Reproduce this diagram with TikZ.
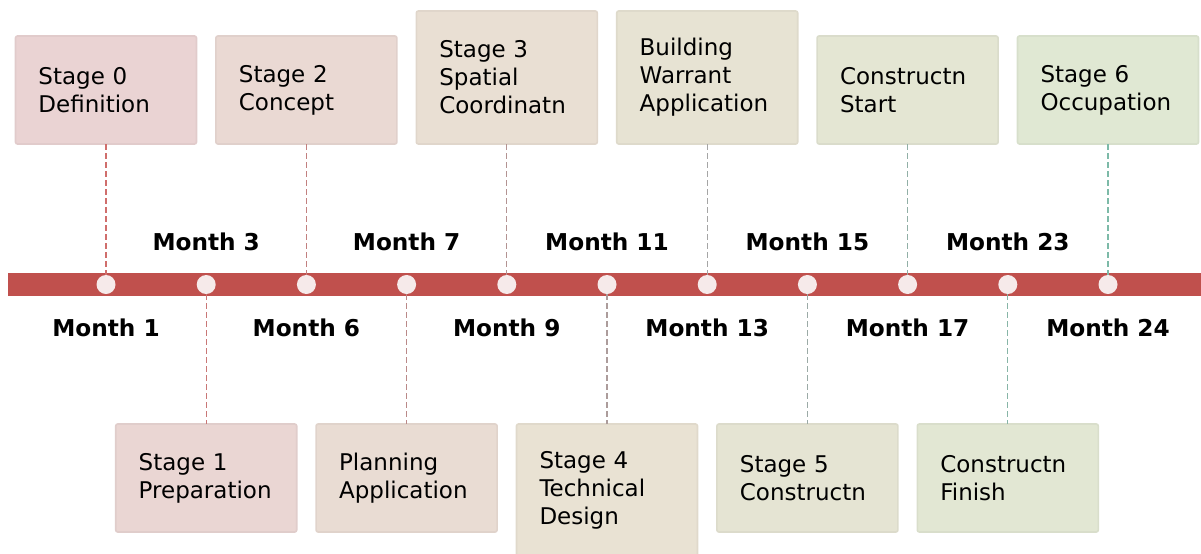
\documentclass[tikz,border=0pt]{standalone}
\usepackage{fontspec}
\setmainfont{DejaVu Sans}
\usetikzlibrary{positioning}

% timeline colours
\definecolor{barred}{RGB}{192,80,77}
\definecolor{dotfill}{RGB}{246,234,234}
\definecolor{bxA}{RGB}{234,211,211}
\definecolor{bxM}{RGB}{233,226,211}
\definecolor{bxZ}{RGB}{224,232,211}
\definecolor{lnA}{RGB}{208,110,108}
\definecolor{lnB}{RGB}{165,165,165}
\definecolor{lnC}{RGB}{125,186,168}

\tikzset{
  dot/.style={circle,fill=dotfill,inner sep=0,outer sep=0,minimum size=9.5pt},
  stagebox/.style={fill=#1,draw=#1!96!black,line width=0.8pt,rounded corners=1pt,
    outer sep=0,inner xsep=11.5pt,text width=67.5pt,align=left,minimum height=54pt,
    font=\fontsize{11.5}{14}\selectfont},
  tallbox/.style={stagebox=#1,minimum height=66.5pt},
  month/.style={inner sep=0,font=\fontsize{11.6}{14}\selectfont\bfseries},
  link/.style={dash pattern=on 3pt off 1.5pt,line width=0.65pt,draw=#1}
}

\begin{document}
\begin{tikzpicture}[x=0.5pt,y=-0.5pt,node distance=40.6pt]
\useasboundingbox (0,0) rectangle (1201,553);

% the bar and its dots
\fill[barred] (8,273) rectangle (1201,296);
\node (d1) [dot] at (106,284.5) {};
\node (d2) [dot,right=of d1] {};
\node (d3) [dot,right=of d2] {};
\node (d4) [dot,right=of d3] {};
\node (d5) [dot,right=of d4] {};
\node (d6) [dot,right=of d5] {};
\node (d7) [dot,right=of d6] {};
\node (d8) [dot,right=of d7] {};
\node (d9) [dot,right=of d8] {};
\node (d10) [dot,right=of d9] {};
\node (d11) [dot,right=of d10] {};

% stages above the bar
\node (s0) [stagebox=bxA,above=65.5pt of d1] {Stage 0\\Definition};
\node (s2) [stagebox=bxM!40!bxA,above=65.5pt of d3] {Stage 2\\Concept};
\node (s3) [tallbox=bxM!80!bxA,above=65.5pt of d5] {Stage 3\\Spatial\\Coordinatn};
\node (bw) [tallbox=bxZ!20!bxM,above=65.5pt of d7] {Building\\Warrant\\Application};
\node (cs) [stagebox=bxZ!60!bxM,above=65.5pt of d9] {Constructn\\Start};
\node (s6) [stagebox=bxZ,above=65.5pt of d11] {Stage 6\\Occupation};

% stages below the bar
\node (s1) [stagebox=bxM!20!bxA,below=65pt of d2] {Stage 1\\Preparation};
\node (pa) [stagebox=bxM!60!bxA,below=65pt of d4] {Planning\\Application};
\node (s4) [tallbox=bxM,below=65pt of d6] {Stage 4\\Technical\\Design};
\node (s5) [stagebox=bxZ!40!bxM,below=65pt of d8] {Stage 5\\Constructn};
\node (cf) [stagebox=bxZ!80!bxM,below=65pt of d10] {Constructn\\Finish};

% month labels
\node (m1) [month,below=12pt of d1] {Month 1};
\node (m3) [month,above=12pt of d2] {Month 3};
\node (m6) [month,below=12pt of d3] {Month 6};
\node (m7) [month,above=12pt of d4] {Month 7};
\node (m9) [month,below=12pt of d5] {Month 9};
\node (m11) [month,above=12pt of d6] {Month 11};
\node (m13) [month,below=12pt of d7] {Month 13};
\node (m15) [month,above=12pt of d8] {Month 15};
\node (m17) [month,below=12pt of d9] {Month 17};
\node (m23) [month,above=12pt of d10] {Month 23};
\node (m24) [month,below=12pt of d11] {Month 24};

% dashed links
\draw[link=lnA](s0)--(d1);
\draw[link=lnB!17!lnA](d2)--(s1);
\draw[link=lnB!33!lnA](s2)--(d3);
\draw[link=lnB!50!lnA](d4)--(pa);
\draw[link=lnB!67!lnA](s3)--(d5);
\draw[link=lnB!83!lnA](d6)--(s4);
\draw[link=lnB](bw)--(d7);
\draw[link=lnC!25!lnB](d8)--(s5);
\draw[link=lnC!50!lnB](cs)--(d9);
\draw[link=lnC!75!lnB](d10)--(cf);
\draw[link=lnC](s6)--(d11);
\end{tikzpicture}
\end{document}
